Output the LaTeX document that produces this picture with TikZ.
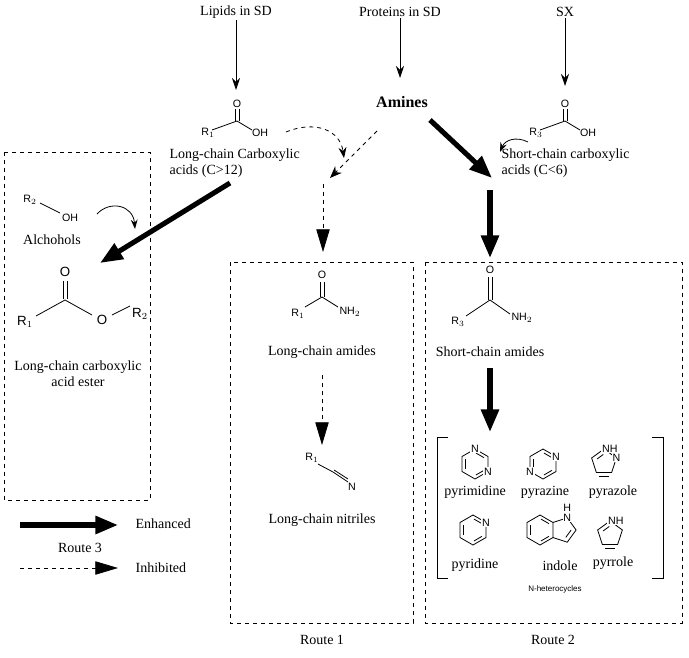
\documentclass[tikz,border=0pt]{standalone}
\usepackage{fontspec}
\setmainfont{Liberation Serif}
\newfontfamily\chemf{Liberation Sans}
\usetikzlibrary{arrows.meta,calc}
\tikzset{
 lbl/.style={font=\fontsize{10.5}{12}\selectfont, align=center, inner sep=1pt},
 chem/.style={font=\chemf\fontsize{8}{9}\selectfont, inner sep=0.5pt},
 atom/.style={font=\chemf\fontsize{8}{9}\selectfont, inner sep=0.6pt, fill=white},
 bond/.style={line width=0.6pt},
 thin/.style={-{Stealth[length=9pt,width=6pt]}, line width=0.6pt},
 strong/.style={-{Triangle[length=17pt,width=13pt]}, line width=3.8pt},
 weak/.style={-{Triangle[length=17pt,width=10pt]}, dashed, line width=0.6pt},
 routebox/.style={dashed, line width=0.7pt},
}
\newcommand\myhexring[2]{%
  \draw[bond] ($(#1,#2)+(30:15)$) -- ($(#1,#2)+(90:15)$) -- ($(#1,#2)+(150:15)$) -- ($(#1,#2)+(210:15)$) -- ($(#1,#2)+(270:15)$) -- ($(#1,#2)+(330:15)$) -- cycle;
  \draw[bond] ($(#1,#2)+(35:11)$) -- ($(#1,#2)+(85:11)$);
  \draw[bond] ($(#1,#2)+(155:11)$) -- ($(#1,#2)+(205:11)$);
  \draw[bond] ($(#1,#2)+(275:11)$) -- ($(#1,#2)+(325:11)$);
}
\newcommand\mypentring[3]{%
  \coordinate (#3c) at (#1,#2);
  \coordinate (#31) at ($(#3c)+(-90:13)$);
  \coordinate (#32) at ($(#3c)+(-18:13)$);
  \coordinate (#33) at ($(#3c)+(54:13)$);
  \coordinate (#34) at ($(#3c)+(126:13)$);
  \coordinate (#35) at ($(#3c)+(198:13)$);
  \draw[bond] (#31) -- (#32) -- (#33) -- (#34) -- (#35) -- cycle;
  \draw[bond] ($(#33)!0.2!(#34)!3pt!90:(#34)$) -- ($(#34)!0.2!(#33)!3pt!-90:(#33)$);
  \draw[bond] ($(#35)!0.25!(#31)!3pt!-90:(#31)$) -- ($(#31)!0.25!(#35)!3pt!90:(#35)$);
}
\begin{document}
\begin{tikzpicture}[x=0.75pt,y=-0.75pt]
\useasboundingbox (0,0) rectangle (689,657);
% sources
\node[lbl] (lip) at (236,12) {Lipids in SD};
\node[lbl] (pro) at (400,12) {Proteins in SD};
\node[lbl] (sx) at (565,12) {SX};
\node[lbl,font=\bfseries\fontsize{12}{14}\selectfont] (am) at (402,102) {Amines};
\draw[thin] (lip) -- (236,90);
\draw[thin] (pro) -- (400,78);
\draw[thin] (sx) -- (565,86);
% long-chain acid
\node[chem] (lO) at (237,104) {O};
\draw[bond] (212,130) -- (237,121) -- (252,130);
\draw[bond] (235,121) -- (235,109); \draw[bond] (239,121) -- (239,109);
\node[chem] at (208,133) {R$_1$};
\node[chem] at (260,133) {OH};
\node[lbl,align=left,anchor=north west] (lca) at (168,147) {Long-chain Carboxylic\\acids (C>12)};
% short-chain acid
\node[chem] (sO) at (565,104) {O};
\draw[bond] (540,130) -- (565,121) -- (580,130);
\draw[bond] (563,121) -- (563,109); \draw[bond] (567,121) -- (567,109);
\node[chem] at (536,133) {R$_3$};
\node[chem] at (588,133) {OH};
\node[lbl,align=left,anchor=north west] (sca) at (500,147) {Short-chain carboxylic\\acids (C<6)};
\draw[-{Stealth[length=7pt,width=5pt]},line width=0.6pt] (528,142) .. controls (516,136) and (505,140) .. (500,152);
% dashed curves to route 1
\draw[dashed,-{Stealth[length=8pt,width=6pt]},line width=0.6pt] (286,132) .. controls (315,120) and (340,130) .. (344,158);
\draw[dashed,-{Stealth[length=9pt,width=7pt]},line width=0.6pt] (377,131) -- (330,178);
\draw[weak] (323,184) -- (323,252);
% thick arrows to route 2
\draw[strong] (430,120) -- (492,178);
\draw[strong] (490,190) -- (490,258);
% to route 3
\draw[strong] (230,183) -- (100,263);
% Route 3 box
\draw[routebox] (4,152) rectangle (150,500);
\node[lbl] at (80,548) {Route 3};
\node[chem] at (30,200) {R$_2$};
\draw[bond] (40,203) -- (60,213);
\node[chem] at (70,218) {OH};
\node[lbl] at (52,240) {Alchohols};
\draw[-{Stealth[length=7pt,width=5pt]},line width=0.6pt] (97,214) .. controls (110,200) and (133,205) .. (135,229);
\node[chem,font=\chemf\fontsize{10}{11}\selectfont] at (65,272) {O};
\draw[bond] (63,281) -- (63,299); \draw[bond] (67,281) -- (67,299);
\draw[bond] (36,316) -- (65,300) -- (92,315);
\draw[bond] (112,315) -- (130,306);
\node[chem,font=\chemf\fontsize{10}{11}\selectfont] at (25,322) {R$_1$};
\node[chem,font=\chemf\fontsize{10}{11}\selectfont] at (102,320) {O};
\node[chem,font=\chemf\fontsize{10}{11}\selectfont] at (140,314) {R$_2$};
\node[lbl] at (78,374) {Long-chain carboxylic\\acid ester};
% Route 1
\draw[routebox] (230,262) rectangle (413,623);
\node[lbl] at (322,640) {Route 1};
\node[chem] at (322,275) {O};
\draw[bond] (320,282) -- (320,297); \draw[bond] (324,282) -- (324,297);
\draw[bond] (305,307) -- (322,297) -- (338,307);
\node[chem] at (298,314) {R$_1$};
\node[chem] at (350,312) {NH$_2$};
\node[lbl] at (322,352) {Long-chain amides};
\draw[weak] (322,375) -- (322,445);
\node[chem] at (312,458) {R$_1$};
\draw[bond] (318,464) -- (333,472) -- (348,482);
\draw[bond] (334,470) -- (348,479);
\node[chem] at (352,487) {N};
\node[lbl] at (322,520) {Long-chain nitriles};
% Route 2
\draw[routebox] (425,262) rectangle (682,623);
\node[lbl] at (553,640) {Route 2};
\node[chem] at (490,270) {O};
\draw[bond] (488,277) -- (488,300); \draw[bond] (492,277) -- (492,300);
\draw[bond] (466,316) -- (490,300) -- (510,314);
\node[chem] at (458,322) {R$_3$};
\node[chem] at (522,318) {NH$_2$};
\node[lbl] at (490,352) {Short-chain amides};
\draw[strong] (490,368) -- (490,432);
% brackets
\draw[line width=0.7pt] (448,437) -- (437,437) -- (437,578) -- (448,578);
\draw[line width=0.7pt] (652,437) -- (663,437) -- (663,578) -- (652,578);
% hexagons
\myhexring{475}{464}
\myhexring{543}{464}
\myhexring{473}{530}
\myhexring{540}{530}
% N atoms
\node[atom] at ($(475,464)+(270:15)$) {N};
\node[atom] at ($(475,464)+(30:15)$) {N};
\node[atom] at ($(543,464)+(330:15)$) {N};
\node[atom] at ($(543,464)+(150:15)$) {N};
\node[atom] at ($(473,530)+(330:15)$) {N};
% indole five ring
\coordinate (ic5) at ($(540,530)+(23.3,0)$);
\coordinate (ia) at ($(ic5)+(216:12.8)$);
\coordinate (ib) at ($(ic5)+(144:12.8)$);
\coordinate (in) at ($(ic5)+(-72:12.8)$);
\coordinate (id) at ($(ic5)+(0:12.8)$);
\coordinate (ie) at ($(ic5)+(72:12.8)$);
\draw[bond] (ia) -- (in) -- (id) -- (ie) -- (ib);
\draw[bond] ($(id)!0.2!(ie)!3pt!-90:(ie)$) -- ($(ie)!0.2!(id)!3pt!90:(id)$);
\node[atom] at (in) {N};
\node[chem] at ($(in)+(0,-10)$) {H};
% pyrazole
\mypentring{604}{462}{p}
\node[atom,anchor=west] at ($(p1)+(-3,0)$) {NH};
\node[atom] at (p2) {N};
% pyrrole
\mypentring{610}{534}{r}
\node[atom,anchor=west] at ($(r1)+(-3,0)$) {NH};
% labels
\node[lbl] at (475,492) {pyrimidine};
\node[lbl] at (545,492) {pyrazine};
\node[lbl] at (613,492) {pyrazole};
\node[lbl] at (475,565) {pyridine};
\node[lbl] at (560,566) {indole};
\node[lbl] at (613,563) {pyrrole};
\node[chem,font=\chemf\fontsize{6}{7}\selectfont] at (555,589) {N-heterocycles};
% legend
\coordinate (l1a) at (20,525); \coordinate (l1b) at (118,525);
\coordinate (l2a) at (20,568); \coordinate (l2b) at (118,568);
\draw[strong] (l1a) -- (l1b);
\draw[weak] (l2a) -- (l2b);
\node[lbl,anchor=west] at (134,524) {Enhanced};
\node[lbl,anchor=west] at (134,568) {Inhibited};
\end{tikzpicture}
\end{document}
